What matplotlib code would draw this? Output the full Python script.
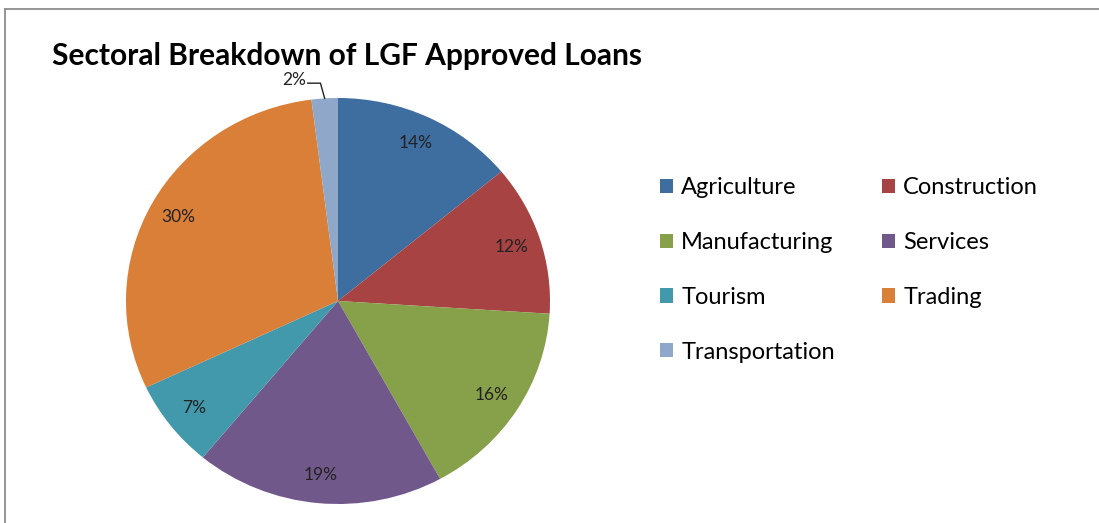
import matplotlib.pyplot as plt
import numpy as np
from matplotlib.lines import Line2D
from matplotlib.patches import Patch

plt.rcParams['font.family'] = ['Lato', 'DejaVu Sans']

sectors = ['Agriculture', 'Construction', 'Manufacturing', 'Services',
           'Tourism', 'Trading', 'Transportation']
shares = [14, 12, 16, 19, 7, 30, 2]
colors = ['#3e6d9f', '#a84343', '#87a04a', '#70588a',
          '#4299ab', '#d97f37', '#8fa8ca']
title = 'Sectoral Breakdown of LGF Approved Loans'

W, H = 1099, 523
fig = plt.figure(figsize=(W / 100, H / 100), dpi=100)

# pie area in pixels: x 126..550, y 98..504
ax = fig.add_axes([126 / W, (H - 504) / H, 424 / W, 406 / H])


def fmt(p):
    if p < 3:
        return ''
    return '%d%%' % round(p)


wedges, texts, autotexts = ax.pie(
    shares, colors=colors, startangle=90, counterclock=False,
    autopct=fmt, pctdistance=0.86, radius=1,
    wedgeprops=dict(linewidth=0),
    textprops=dict(fontsize=12.5, color='#222222'))
ax.set_aspect('auto')
ax.set_xlim(-1, 1)
ax.set_ylim(-1, 1)

# leader line for the small slice
total = float(sum(shares))
end_ang = 90 - 360 * sum(shares[:-1]) / total
mid = np.deg2rad(end_ang - 360 * shares[-1] / total / 2)
x0, y0 = np.cos(mid), np.sin(mid)
ax.plot([x0, x0 - 0.02, x0 - 0.08], [y0, y0 + 0.075, y0 + 0.075],
        color='#222222', lw=1, clip_on=False)
ax.text(x0 - 0.09, y0 + 0.09, '%d%%' % shares[-1], ha='right', va='center',
        fontsize=12.5, color='#222222', clip_on=False)

fig.text(52 / W, 1 - 56 / H, title, fontsize=21.5, fontweight='bold',
         ha='left', va='center')

# legend, filled row-wise like the original
order = [0, 2, 4, 6, 1, 3, 5]
handles = [Patch(facecolor=colors[i], edgecolor='none') for i in order]
labels = [sectors[i] for i in order]
fig.legend(handles, labels, ncol=2, loc='upper left',
           bbox_to_anchor=(639 / W, 1 - 156 / H), frameon=False,
           fontsize=17, handlelength=0.55, handleheight=0.55,
           handletextpad=0.34, labelspacing=1.43, columnspacing=2.0)

# chart frame (top and left edges visible)
fig.add_artist(Line2D([5 / W, 5 / W], [0, 1 - 9 / H], color='#8c8c8c', lw=1.3))
fig.add_artist(Line2D([5 / W, 1], [1 - 9 / H, 1 - 9 / H], color='#8c8c8c', lw=1.3))

fig.savefig('out.png', dpi=100, facecolor='white')
